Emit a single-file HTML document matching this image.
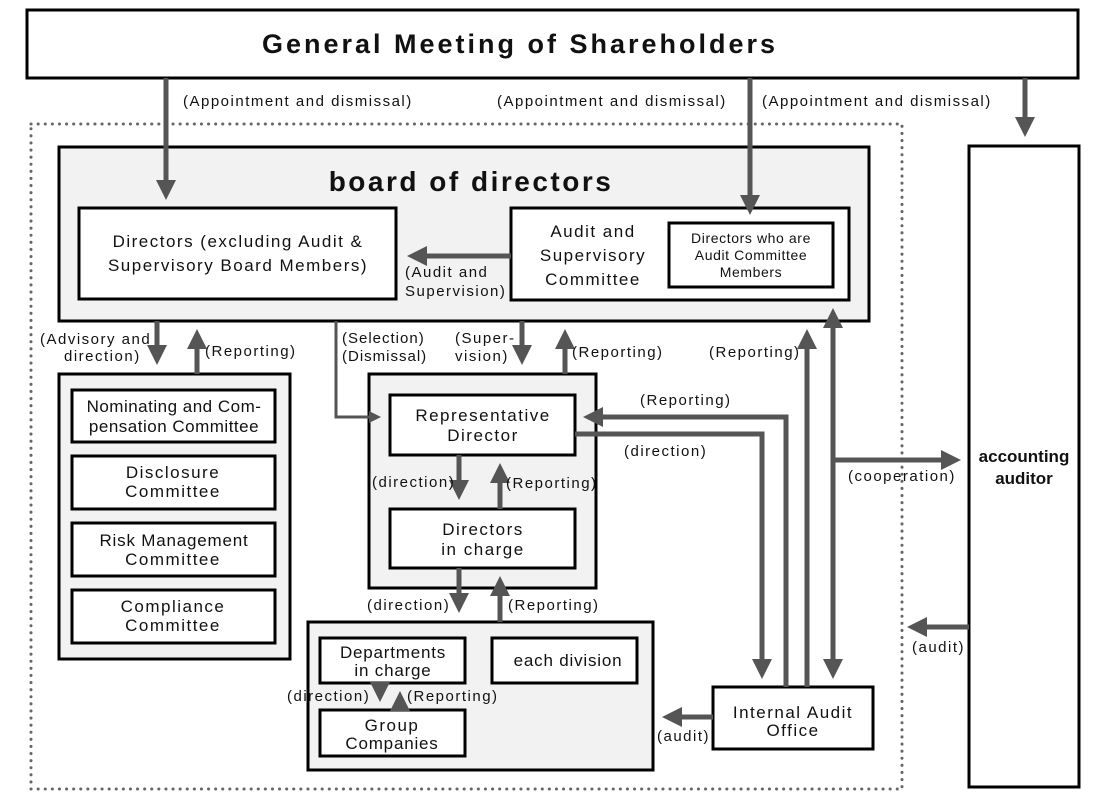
<!DOCTYPE html>
<html><head><meta charset="utf-8"><style>
body{margin:0;background:#fff}
svg text{font-family:"Liberation Sans",sans-serif;fill:#111}
</style></head><body>
<svg width="1102" height="800" viewBox="0 0 1102 800" xmlns="http://www.w3.org/2000/svg">
<defs>
<marker id="a" markerWidth="4" markerHeight="4" refX="3" refY="2" orient="auto" markerUnits="strokeWidth"><path d="M0,0 L4,2 L0,4 z" fill="#555"/></marker>
</defs>
<g stroke="#000" stroke-width="3">
<rect x="27" y="10" width="1051" height="68" fill="#fff"/>
<rect x="59" y="147" width="810" height="174" fill="#f2f2f2"/>
<rect x="79" y="208" width="317" height="91" fill="#fff"/>
<rect x="511" y="208" width="338" height="92" fill="#fff"/>
<rect x="669" y="223" width="164" height="64" fill="#fff"/>
<rect x="59" y="374" width="231" height="285" fill="#f2f2f2"/>
<rect x="72" y="390" width="203" height="52" fill="#fff"/>
<rect x="72" y="456" width="203" height="53" fill="#fff"/>
<rect x="72" y="523" width="203" height="53" fill="#fff"/>
<rect x="72" y="590" width="203" height="53" fill="#fff"/>
<rect x="369" y="374" width="227" height="214" fill="#f2f2f2"/>
<rect x="390" y="395" width="185" height="60" fill="#fff"/>
<rect x="390" y="509" width="185" height="59" fill="#fff"/>
<rect x="308" y="622" width="345" height="148" fill="#f2f2f2"/>
<rect x="320" y="638" width="145" height="45" fill="#fff"/>
<rect x="492" y="638" width="145" height="45" fill="#fff"/>
<rect x="320" y="710" width="145" height="46" fill="#fff"/>
<rect x="713" y="687" width="160" height="62" fill="#fff"/>
<rect x="969" y="146" width="110" height="641" fill="#fff"/>
</g>
<rect x="31" y="124" width="871" height="665" fill="none" stroke="#666" stroke-width="3" stroke-dasharray="0.1 7" stroke-linecap="round"/>
<g stroke="#555" stroke-width="5" fill="none" marker-end="url(#a)">
<line x1="166" y1="78" x2="166" y2="195"/>
<line x1="750" y1="78" x2="750" y2="210"/>
<line x1="1025" y1="78" x2="1025" y2="132"/>
<line x1="511" y1="256" x2="412" y2="256"/>
<line x1="157" y1="321" x2="157" y2="360"/>
<line x1="197" y1="374" x2="197" y2="334"/>
<line x1="522" y1="321" x2="522" y2="360"/>
<line x1="565" y1="374" x2="565" y2="334"/>
<polyline points="336,321 336,417 378,417" stroke-width="3"/>
<polyline points="786,687 786,417 588,417"/>
<polyline points="575,434 762,434 762,674"/>
<line x1="807" y1="687" x2="807" y2="334"/>
<line x1="833" y1="460" x2="833" y2="313"/>
<line x1="833" y1="460" x2="833" y2="674"/>
<line x1="833" y1="460" x2="956" y2="460"/>
<line x1="969" y1="627" x2="912" y2="627"/>
<line x1="459" y1="455" x2="459" y2="495"/>
<line x1="500" y1="509" x2="500" y2="468"/>
<line x1="459" y1="568" x2="459" y2="608"/>
<line x1="500" y1="622" x2="500" y2="581"/>
<line x1="380" y1="683" x2="380" y2="697"/>
<line x1="400" y1="710" x2="400" y2="696"/>
<line x1="713" y1="717" x2="667" y2="717"/>
</g>
<text x="520" y="53" font-size="27" font-weight="bold" text-anchor="middle" letter-spacing="3">General Meeting of Shareholders</text>
<text x="471" y="191" font-size="28" font-weight="bold" text-anchor="middle" letter-spacing="2.5">board of directors</text>
<g font-size="17" text-anchor="middle" letter-spacing="1.5">
<text x="238" y="247">Directors (excluding Audit &amp;</text>
<text x="238" y="271">Supervisory Board Members)</text>
<text x="593" y="237">Audit and</text>
<text x="593" y="261">Supervisory</text>
<text x="593" y="285">Committee</text>
<text x="174" y="412" letter-spacing="0.5">Nominating and Com-</text>
<text x="174" y="432" letter-spacing="0.5">pensation Committee</text>
<text x="173" y="478">Disclosure</text>
<text x="173" y="497">Committee</text>
<text x="174" y="546" letter-spacing="0.8">Risk Management</text>
<text x="173" y="565">Committee</text>
<text x="173" y="612">Compliance</text>
<text x="173" y="631">Committee</text>
<text x="483" y="421">Representative</text>
<text x="483" y="441">Director</text>
<text x="483" y="535">Directors</text>
<text x="483" y="555">in charge</text>
<text x="393" y="658" letter-spacing="0.8">Departments</text>
<text x="393" y="676" letter-spacing="0.8">in charge</text>
<text x="568" y="666" letter-spacing="0.8">each division</text>
<text x="392" y="731">Group</text>
<text x="392" y="749" letter-spacing="0.8">Companies</text>
<text x="793" y="718">Internal Audit</text>
<text x="793" y="736">Office</text>
</g>
<g font-size="14" text-anchor="middle" letter-spacing="0.6">
<text x="751" y="243">Directors who are</text>
<text x="751" y="260">Audit Committee</text>
<text x="751" y="277">Members</text>
</g>
<text x="1024" y="462" font-size="17" font-weight="bold" text-anchor="middle">accounting</text>
<text x="1024" y="484" font-size="17" font-weight="bold" text-anchor="middle">auditor</text>
<g font-size="15" letter-spacing="1.5">
<text x="183" y="106">(Appointment and dismissal)</text>
<text x="497" y="106">(Appointment and dismissal)</text>
<text x="762" y="106">(Appointment and dismissal)</text>
<text x="405" y="277">(Audit and</text>
<text x="405" y="296">Supervision)</text>
<text x="40" y="344">(Advisory and</text>
<text x="64" y="361">direction)</text>
<text x="205" y="356">(Reporting)</text>
<text x="342" y="343" letter-spacing="1">(Selection)</text>
<text x="342" y="361" letter-spacing="1">(Dismissal)</text>
<text x="455" y="343">(Super-</text>
<text x="455" y="361">vision)</text>
<text x="572" y="357">(Reporting)</text>
<text x="709" y="357">(Reporting)</text>
<text x="640" y="405">(Reporting)</text>
<text x="624" y="456">(direction)</text>
<text x="848" y="481">(cooperation)</text>
<text x="372" y="487">(direction)</text>
<text x="506" y="488">(Reporting)</text>
<text x="367" y="610">(direction)</text>
<text x="508" y="610">(Reporting)</text>
<text x="287" y="701">(direction)</text>
<text x="407" y="701">(Reporting)</text>
<text x="657" y="741">(audit)</text>
<text x="912" y="652">(audit)</text>
</g>
</svg>
</body></html>
